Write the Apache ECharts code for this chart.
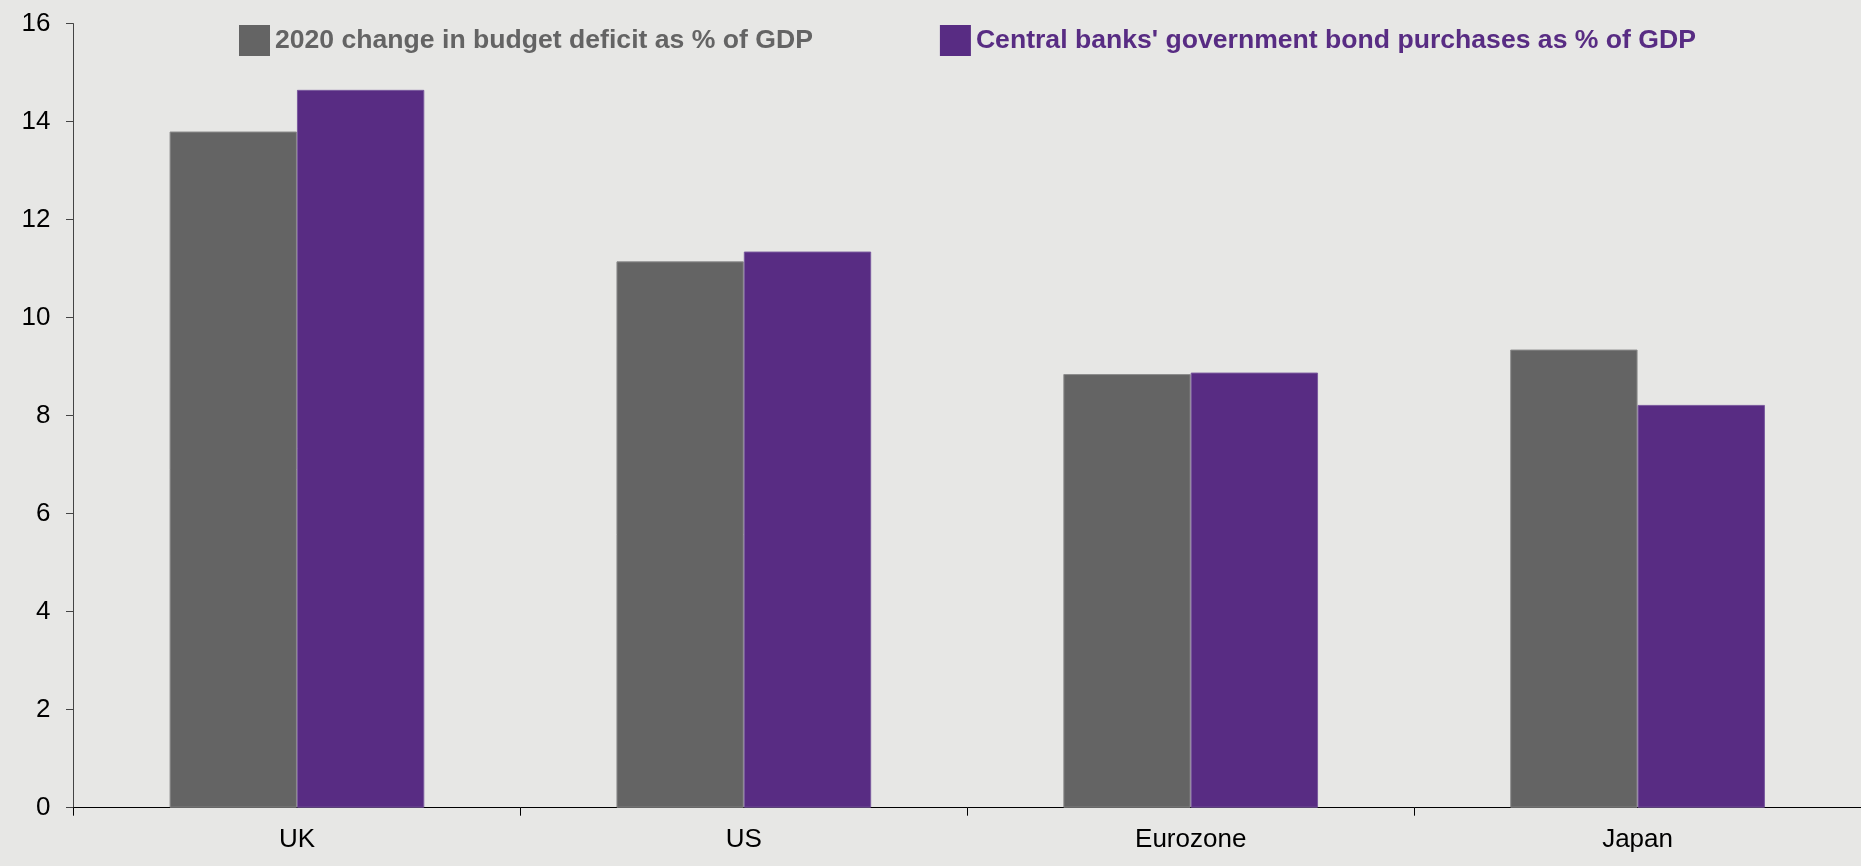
<!DOCTYPE html>
<html>
<head>
<meta charset="utf-8">
<title>Budget deficits and central bank bond purchases</title>
<script src="https://cdn.jsdelivr.net/npm/echarts@6/dist/echarts.min.js"></script>
<style>
  html, body { margin: 0; padding: 0; background: #e7e7e5; }
  #chart { width: 1861px; height: 866px; }
</style>
</head>
<body>
<div id="chart"></div>
<script>
// Economies compared
const categories = ['UK', 'US', 'Eurozone', 'Japan'];

// 2020 change in budget deficit, % of GDP
const deficitChange = [13.8, 11.15, 8.85, 9.35];

// Central banks' government bond purchases, % of GDP
const bondPurchases = [14.65, 11.35, 8.88, 8.22];

// Value axis ticks
const yTicks = { min: 0, max: 16, step: 2 };

const seriesNames = [
  '2020 change in budget deficit as % of GDP',
  "Central banks' government bond purchases as % of GDP"
];

const GREY = '#646464';
const PURPLE = '#582c83';
const FONT = '"Liberation Sans", Arial, Helvetica, sans-serif';

const chart = echarts.init(document.getElementById('chart'), null, { renderer: 'canvas' });

chart.setOption({
  backgroundColor: '#e7e7e5',
  animation: false,
  textStyle: { fontFamily: FONT },
  legend: {
    left: 239,
    top: 25,
    padding: 0,
    icon: 'rect',
    itemWidth: 31,
    itemHeight: 31,
    itemGap: 127,
    selectedMode: false,
    itemStyle: { borderWidth: 0 },
    data: [
      { name: seriesNames[0], textStyle: { color: GREY } },
      { name: seriesNames[1], textStyle: { color: PURPLE } }
    ],
    textStyle: { fontFamily: FONT, fontWeight: 'bold', fontSize: 26.6, padding: [4, 0, 0, 0] }
  },
  grid: {
    left: 73.5,
    top: 23.7,
    width: 1790,
    bottom: 58.3,
    containLabel: false
  },
  xAxis: {
    type: 'category',
    data: categories,
    boundaryGap: true,
    axisLine: { show: true, lineStyle: { color: '#000', width: 1 } },
    axisTick: { show: true, alignWithLabel: false, length: 8, lineStyle: { color: '#000' } },
    axisLabel: { color: '#000', fontSize: 26, fontFamily: FONT, margin: 19 },
    splitLine: { show: false }
  },
  yAxis: {
    type: 'value',
    min: yTicks.min,
    max: yTicks.max,
    interval: yTicks.step,
    axisLine: { show: true, lineStyle: { color: '#444', width: 1 } },
    axisTick: { show: true, length: 7.5, lineStyle: { color: '#444' } },
    axisLabel: { color: '#000', fontSize: 26, fontFamily: FONT, margin: 23 },
    splitLine: { show: false }
  },
  series: [
    {
      name: seriesNames[0],
      type: 'bar',
      data: deficitChange,
      barGap: '0%',
      barCategoryGap: '43%',
      itemStyle: { color: GREY, borderColor: '#8c8c8c', borderWidth: 1 }
    },
    {
      name: seriesNames[1],
      type: 'bar',
      data: bondPurchases,
      barGap: '0%',
      barCategoryGap: '43%',
      itemStyle: { color: PURPLE, borderColor: '#7a5a9e', borderWidth: 1 }
    }
  ]
});
</script>
</body>
</html>
